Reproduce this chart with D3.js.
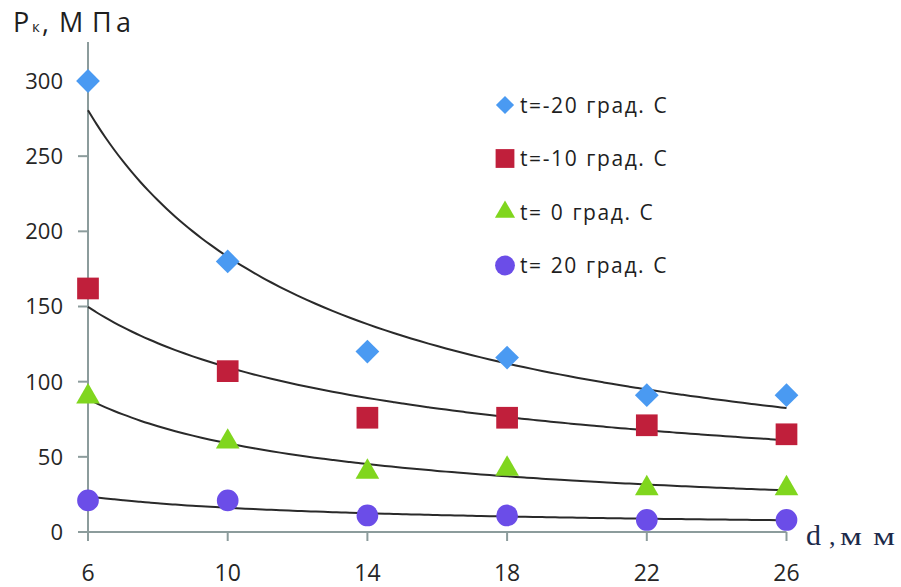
<!DOCTYPE html>
<html>
<head>
<meta charset="utf-8">
<script src="https://cdn.jsdelivr.net/npm/d3@7"></script>
<style>
  body { margin: 0; background: #fff; }
  svg { display: block; }
</style>
</head>
<body>
<div id="chart"></div>
<script>
// diameters, mm
const diameters = [6, 10, 14, 18, 22, 26];
// pressure, MPa, one array per temperature
const tMinus20 = [300, 180, 120, 116, 91, 91];
const tMinus10 = [162, 107, 76, 76, 71, 65];
const tZero = [90, 60, 40, 42, 29, 29];
const tPlus20 = [21, 21, 11, 11, 8, 8];
const seriesNames = ['t=-20 град. С', 't=-10 град. С', 't= 0 град. С', 't= 20 град. С'];
const yTicks = [0, 50, 100, 150, 200, 250, 300];

const width = 901, height = 587;

const series = [
  { name: seriesNames[0], values: tMinus20, color: '#4a9af2', shape: d3.symbolDiamond2, size: 360, legendSize: 210 },
  { name: seriesNames[1], values: tMinus10, color: '#c01f3b', shape: d3.symbolSquare2, size: 600, legendSize: 450 },
  { name: seriesNames[2], values: tZero, color: '#80d61e', shape: d3.symbolTriangle2, size: 400, legendSize: 290 },
  { name: seriesNames[3], values: tPlus20, color: '#6b4de8', shape: d3.symbolCircle, size: 370, legendSize: 310 }
];

const svg = d3.select('#chart').append('svg')
    .attr('width', width)
    .attr('height', height);

const x = d3.scaleLinear().domain([6, 26]).range([88, 786.5]);
const y = d3.scaleLinear().domain([0, 300]).range([532, 81]);

const axisColor = '#8c9c9c';
const labelFont = '"Open Sans", sans-serif';

// y axis
svg.append('line')
    .attr('x1', x(6)).attr('x2', x(6))
    .attr('y1', y(0)).attr('y2', 42)
    .attr('stroke', axisColor).attr('stroke-width', 2);

svg.selectAll('.ytick').data(yTicks).enter().append('line')
    .attr('x1', x(6) - 10).attr('x2', x(6))
    .attr('y1', d => y(d)).attr('y2', d => y(d))
    .attr('stroke', axisColor).attr('stroke-width', 2);

svg.selectAll('.ylab').data(yTicks).enter().append('text')
    .attr('x', 63).attr('y', d => y(d))
    .attr('dy', '0.36em')
    .attr('text-anchor', 'end')
    .style('font-family', labelFont)
    .style('font-size', '22px')
    .style('fill', '#262626')
    .text(d => d);

// x axis
svg.append('line')
    .attr('x1', x(6)).attr('x2', x(26))
    .attr('y1', y(0)).attr('y2', y(0))
    .attr('stroke', axisColor).attr('stroke-width', 2);

svg.selectAll('.xtick').data(diameters).enter().append('line')
    .attr('x1', d => x(d)).attr('x2', d => x(d))
    .attr('y1', y(0)).attr('y2', y(0) + 9)
    .attr('stroke', axisColor).attr('stroke-width', 2);

svg.selectAll('.xlab').data(diameters).enter().append('text')
    .attr('x', d => x(d)).attr('y', 581)
    .attr('text-anchor', 'middle')
    .style('font-family', labelFont)
    .style('font-size', '23px')
    .style('fill', '#262626')
    .text(d => d);

// power trend line (least squares in log-log), like a spreadsheet trendline
function powerFit(xs, ys) {
  const lx = xs.map(Math.log), ly = ys.map(Math.log);
  const mx = d3.mean(lx), my = d3.mean(ly);
  const b = d3.sum(lx, (v, i) => (v - mx) * (ly[i] - my)) / d3.sum(lx, v => (v - mx) * (v - mx));
  const a = Math.exp(my - b * mx);
  return v => a * Math.pow(v, b);
}

const line = d3.line().x(d => x(d[0])).y(d => y(d[1])).curve(d3.curveMonotoneX);
const samples = d3.range(6, 26.001, 0.25);

series.forEach(s => {
  const f = powerFit(diameters, s.values);
  svg.append('path')
      .datum(samples.map(v => [v, f(v)]))
      .attr('d', line)
      .attr('fill', 'none')
      .attr('stroke', '#2a2a2a')
      .attr('stroke-width', 2);
});

// markers
series.forEach(s => {
  svg.selectAll(null).data(s.values).enter().append('path')
      .attr('transform', (d, i) => `translate(${x(diameters[i])},${y(d)})`)
      .attr('d', d3.symbol().type(s.shape).size(s.size)())
      .attr('fill', s.color);
});

// legend
const legend = svg.append('g');
series.forEach((s, i) => {
  const ly = 105 + i * 53.5;
  legend.append('path')
      .attr('transform', `translate(505,${ly})`)
      .attr('d', d3.symbol().type(s.shape).size(s.legendSize)())
      .attr('fill', s.color);
  legend.append('text')
      .attr('x', 520).attr('y', ly)
      .attr('dy', '0.36em')
      .style('font-family', labelFont)
      .style('font-size', '21px')
      .style('letter-spacing', '1.6px')
      .style('word-spacing', '1px')
      .style('fill', '#1e1e1e')
      .text(s.name);
});

// y axis title: Р к, М П а
const titleParts = [
  { t: 'Р', x: 13, size: 27 },
  { t: 'к', x: 32, size: 15 },
  { t: ',', x: 42, size: 27 },
  { t: 'М', x: 59, size: 27 },
  { t: 'П', x: 92, size: 27 },
  { t: 'а', x: 116, size: 27 }
];
svg.selectAll('.ytitle').data(titleParts).enter().append('text')
    .attr('x', d => d.x).attr('y', 32)
    .style('font-family', labelFont)
    .style('font-size', d => d.size + 'px')
    .style('fill', '#1e1e1e')
    .text(d => d.t);

// x axis title: d ,м м
const serif = '"Liberation Serif", "DejaVu Serif", serif';
svg.append('text')
    .attr('x', 806).attr('y', 545)
    .style('font-family', serif).style('font-size', '30px')
    .style('fill', '#1d2a4a')
    .text('d');
svg.append('text')
    .attr('x', 829).attr('y', 545)
    .style('font-family', serif).style('font-size', '26px')
    .style('fill', '#1d2a4a')
    .text(',');
[840, 873].forEach(px => {
  svg.append('text')
      .attr('x', px).attr('y', 545)
      .attr('textLength', 22).attr('lengthAdjust', 'spacingAndGlyphs')
      .style('font-family', serif).style('font-size', '25px')
      .style('fill', '#1d2a4a')
      .text('м');
});
</script>
</body>
</html>
